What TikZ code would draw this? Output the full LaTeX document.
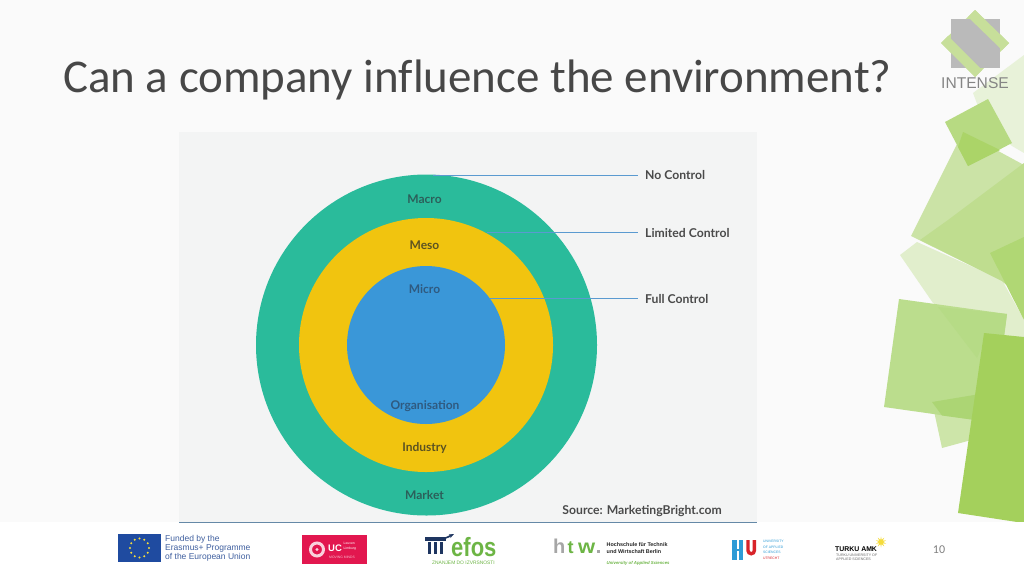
\documentclass[tikz,border=0pt]{standalone}
\usepackage{fontspec}
\usepackage{graphicx}
\setmainfont{Carlito}[Ligatures=NoCommon]
\newfontfamily\lab{Lato}
\newfontfamily\arial{Liberation Sans}
\usetikzlibrary{shapes.geometric,shapes.misc,arrows.meta}
\definecolor{bgc}{HTML}{FAFAFA}
\definecolor{panel}{HTML}{F3F4F4}
\definecolor{ctl}{HTML}{5A9AD0}
\definecolor{teal}{HTML}{2ABB9B}
\definecolor{amber}{HTML}{F1C40F}
\definecolor{azure}{HTML}{3A97D8}
\definecolor{lbl}{HTML}{4A4A4A}
\definecolor{ontl}{HTML}{2C5F5A}
\definecolor{onam}{HTML}{5C5322}
\definecolor{onaz}{HTML}{2F5A80}
\definecolor{gr}{HTML}{A4D05C}
\definecolor{grA}{HTML}{CBE3A6}
\definecolor{grAA}{HTML}{BFDD8F}
\definecolor{grB}{HTML}{E1EECC}
\definecolor{grT}{HTML}{E8F2D9}
\definecolor{grR}{HTML}{B0D774}
\definecolor{grC}{HTML}{BBDD8D}
\definecolor{grCd}{HTML}{B6DB86}
\definecolor{grCb}{HTML}{ACD574}
\definecolor{grD}{HTML}{CDE5A9}
\definecolor{grS}{HTML}{B7DA82}
\definecolor{grSd}{HTML}{ABD468}
\definecolor{grL}{HTML}{C7DF9A}
\definecolor{eub}{HTML}{1F4BA0}
\definecolor{euy}{HTML}{F5DC3C}
\definecolor{eut}{HTML}{3F5F9F}
\definecolor{ucr}{HTML}{E2174F}
\definecolor{efn}{HTML}{1E3560}
\definecolor{efg}{HTML}{6DB545}
\definecolor{hub}{HTML}{2E9BD6}
\definecolor{hur}{HTML}{D8232A}
\tikzset{
  x=1pt,y=-1pt,
  ctlline/.style={draw=ctl,line width=.7pt},
  ctllabel/.style={font=\lab\bfseries\fontsize{12.2}{13}\selectfont,text=lbl,anchor=west,inner sep=0pt},
  ringlabel/.style={font=\lab\bfseries\fontsize{12}{13}\selectfont,inner sep=0pt},
  ring/.style={circle,draw=none,inner sep=0pt,minimum size=#1},
  tiny/.style={inner sep=0pt,anchor=west,font=\arial\fontsize{#1}{#1}\selectfont},
}
\begin{document}
\begin{tikzpicture}
\useasboundingbox (0,0) rectangle (1024,576);
\fill[bgc] (0,0) rectangle (1024,576);
% decorative leaves
\fill[grT] (973,93) -- (1024,55) -- (1024,153) -- (1012,146) -- (985,125) -- cycle;
\fill[grB] (900,255) -- (917,242) -- (1002,280) -- (1024,320) -- (1024,340) -- (984,335) -- (933,303) -- cycle;
\fill[grA] (963,132) -- (1024,165) -- (1024,300) -- (1002,281) -- (911,236) -- cycle;
\fill[grAA] (1024,163) -- (948,220) -- (920,240) -- (1002,281) -- (1024,300) -- cycle;
\fill[grR] (990,253) -- (1024,237) -- (1024,320) -- cycle;
\fill[grS] (988,99) -- (1012,143) -- (968,166) -- (945,122) -- cycle;
\fill[grSd] (963,132) -- (1000,150) -- (968,166) -- (958,147) -- cycle;
\fill[grD] (932,402) -- (942,448) -- (975,439) -- (978,415) -- cycle;
\fill[grC] (899,299) -- (1007,314) -- (1000,370) -- (990,422) -- (884,407) -- cycle;
\fill[grCd] (938,307) -- (1007,314) -- (1003,342) -- (984,342) -- (977,358) -- cycle;
\fill[grCb] (932,402) -- (980,394) -- (975,420) -- (942,415.5) -- cycle;
\fill[gr] (984,333) -- (1024,337) -- (1024,522) -- (1017,522) -- (958,513) -- cycle;
% INTENSE logo
\fill[grL] (975,10) -- (1009,43) -- (975,77) -- (941,43) -- cycle;
\fill[black!27] (951,19) rectangle (1000,68);
\fill[grL] (975,10) -- (1009,43) -- (1002,50) -- (968,17) -- cycle;
\fill[grL] (941,43) -- (975,77) -- (982,70) -- (948,36) -- cycle;
\node[inner sep=0pt,font=\arial\fontsize{15.6}{15}\selectfont,text=black!48] (intense) at (975,83) {INTENSE};
% title
\node[inner sep=0pt,anchor=base west,font=\fontsize{46.95}{50}\selectfont,text=black!72] (title) at (63,92) {Can a company influence the environment?};
% panel
\fill[panel] (179,132) rectangle (757,522);
\fill[white] (0,522) rectangle (1024,576);
\coordinate (baseL) at (179,522);
\coordinate (baseR) at (757,522);
\draw[draw=ctl!70!black!80,line width=.7pt] (baseL) -- (baseR);
% rings
\node[ring=341pt,fill=teal] (macro) at (426.5,345) {};
\node[ring=254pt,fill=amber] (meso) at (426,345) {};
\node[ring=158pt,fill=azure] (micro) at (426,345) {};
\node[ringlabel,text=ontl] (tMacro) at (424.5,199.5) {Macro};
\node[ringlabel,text=onam] (tMeso) at (424.5,245) {Meso};
\node[ringlabel,text=onaz] (tMicro) at (424.5,289) {Micro};
\node[ringlabel,text=onaz] (tOrg) at (425,406) {Organisation};
\node[ringlabel,text=onam] (tInd) at (424.5,448.5) {Industry};
\node[ringlabel,text=ontl] (tMkt) at (424.5,495.5) {Market};
% connectors
\node[ctllabel] (no) at (645,175) {No Control};
\node[ctllabel] (lim) at (645,233) {Limited Control};
\node[ctllabel] (full) at (645,299) {Full Control};
\coordinate (noS) at (433,175.5);
\coordinate (noE) at (638,175.5);
\coordinate (limS) at (487,232.5);
\coordinate (limE) at (638,232.5);
\coordinate (fullS) at (490,298.5);
\coordinate (fullE) at (638,298.5);
\draw[ctlline] (noS) -- (noE);
\draw[ctlline] (limS) -- (limE);
\draw[ctlline] (fullS) -- (fullE);
\node[ctllabel,anchor=east] (src) at (722,511) {Source: MarketingBright.com};
% EU
\fill[eub] (118,534) rectangle (161,562);
\foreach \a in {0,30,...,330}
  \fill[euy] ({139.5+9.5*cos(\a)},{548+9.5*sin(\a)}) circle (1.1pt);
\node[tiny=8.5,text=eut] (eu1) at (165,539) {Funded by the};
\node[tiny=8.5,text=eut] (eu2) at (165,548) {Erasmus+ Programme};
\node[tiny=8.5,text=eut] (eu3) at (165,557.5) {of the European Union};
% UC
\fill[ucr] (302,535) rectangle (367,564);
\draw[white!80!ucr,line width=3pt] (317,549.5) circle (6.5pt);
\fill[white!80!ucr] (317,549.5) circle (1.6pt);
\node[tiny=9,text=white,font=\arial\bfseries\fontsize{9.5}{9}\selectfont] (uc) at (328,548) {UC};
\node[tiny=3.4,text=white] (uc1) at (343.5,543) {Leuven};
\node[tiny=3.4,text=white] (uc2) at (343.5,548.5) {Limburg};
\node[tiny=3.4,text=white!70!ucr] (uc3) at (329,557.5) {MOVING MINDS};
% efos
\fill[efn] (425,537) rectangle (446,541);
\fill[efn] (428,542) rectangle (431,554);
\fill[efn] (434,542) rectangle (437,554);
\fill[efn] (440,542) rectangle (443,554);
\draw[efn,line width=1.6pt,-{Stealth[length=5pt]}] (440,540) -- (448,537) -- (454,534);
\node[inner sep=0pt,anchor=base west,font=\arial\bfseries\fontsize{22}{24}\selectfont,text=efg] (efos) at (451,556.5) {\scalebox{1}[1.2]{efos}};
\node[tiny=4.9,text=efg] (efos2) at (432,562.5) {ZNANJEM DO IZVRSNOSTI};
% htw
\node[inner sep=0pt,anchor=base west,font=\arial\bfseries\fontsize{20}{20}\selectfont,text=black!35] (htwh) at (553,553) {h};
\node[inner sep=0pt,anchor=base west,font=\arial\bfseries\fontsize{18}{18}\selectfont,text=efg] (htwt) at (567.5,553) {t};
\node[inner sep=0pt,anchor=base west,font=\arial\bfseries\fontsize{22}{24}\selectfont,text=efg] (htww) at (578,553) {\scalebox{1}[.9]{w}};
\fill[black!35] (597,550) rectangle (600,553);
\node[tiny=5.4,text=black!85,font=\arial\bfseries\fontsize{5.4}{6}\selectfont] (h1) at (606.5,545) {Hochschule für Technik};
\node[tiny=5.4,text=black!85,font=\arial\bfseries\fontsize{5.4}{6}\selectfont] (h2) at (606.5,552) {und Wirtschaft Berlin};
\node[tiny=4.4,text=efg,font=\arial\bfseries\itshape\fontsize{4.3}{6}\selectfont] (h3) at (606.5,563) {University of Applied Sciences};
% HU
\fill[hub] (732,540) rectangle (737,560);
\fill[hub] (739,540) rectangle (743,560);
\fill[hub] (737,549) rectangle (739,551);
\draw[hur,line width=3.4pt] (748,540) -- (748,550.5) arc[start angle=180,end angle=360,radius=3.2pt] -- (754.4,540);
\node[tiny=3.4,text=hub] (hu1) at (763,541.5) {UNIVERSITY};
\node[tiny=3.4,text=hub] (hu2) at (763,547) {OF APPLIED};
\node[tiny=3.4,text=hub] (hu3) at (763,552.5) {SCIENCES};
\node[tiny=3.4,text=hur] (hu4) at (763,558) {UTRECHT};
% Turku
\node[tiny=7,text=black,font=\arial\bfseries\fontsize{6.9}{8}\selectfont] (tk1) at (835,549) {TURKU AMK};
\node[tiny=3.6,text=black!60] (tk2) at (836,555) {TURKU UNIVERSITY OF};
\node[tiny=3.6,text=black!60] (tk3) at (836,559.5) {APPLIED SCIENCES};
\node[star,star points=10,star point ratio=2.5,fill=euy,inner sep=0pt,minimum size=11pt] (tkstar) at (881,542) {};
% page number
\node[inner sep=0pt,font=\fontsize{12}{12}\selectfont,text=black!50] (pg) at (939,549.5) {10};
\end{tikzpicture}
\end{document}
